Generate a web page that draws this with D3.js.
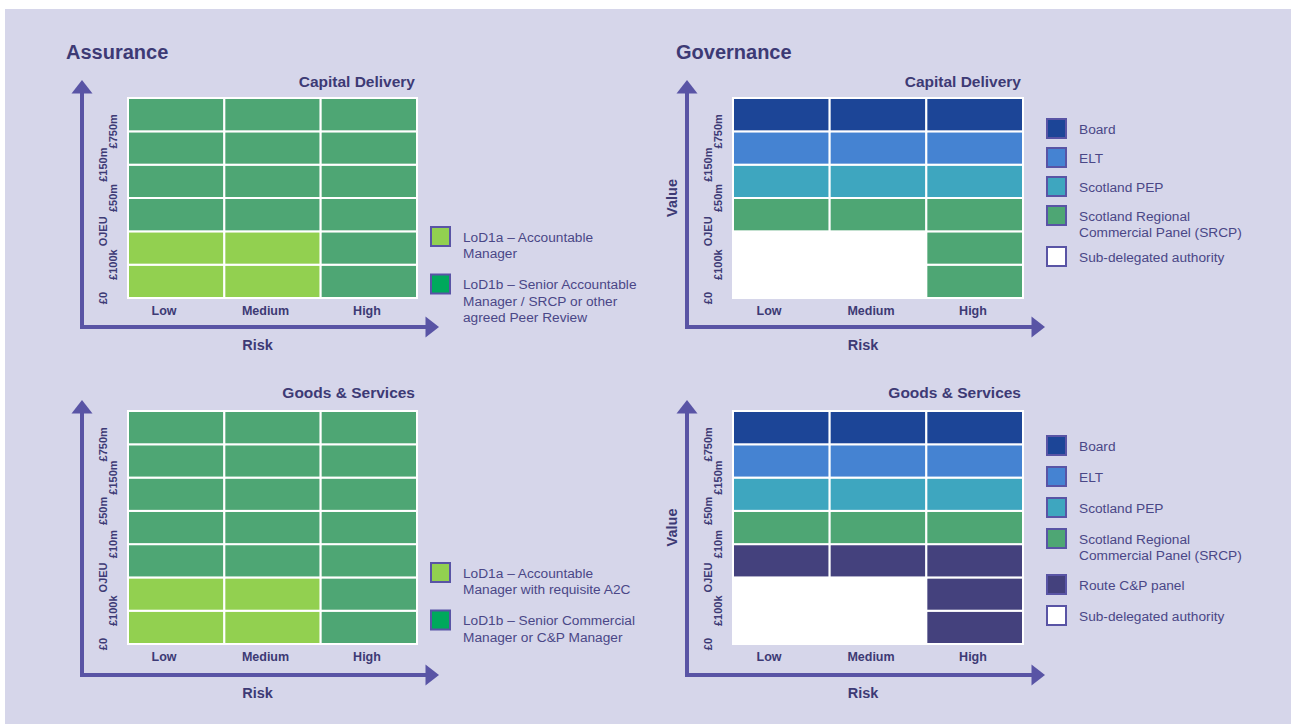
<!DOCTYPE html>
<html>
<head>
<meta charset="utf-8">
<script src="https://cdn.jsdelivr.net/npm/d3@7"></script>
<style>
  html, body { margin: 0; padding: 0; background: #ffffff; }
  svg { display: block; font-family: "Liberation Sans", Arial, Helvetica, sans-serif; }
</style>
</head>
<body>
<svg id="chart" width="1298" height="724"></svg>
<script>
// ---- Data -------------------------------------------------------------
const riskLevels = ["Low", "Medium", "High"];

const capitalValueBands = ["£0", "£100k", "OJEU", "£50m", "£150m", "£750m"];
const goodsValueBands = ["£0", "£100k", "OJEU", "£10m", "£50m", "£150m", "£750m"];

// Each matrix is listed from the lowest value band upwards, one entry per risk level
const assuranceCapital = [
  ["LoD1a", "LoD1a", "LoD1b"],
  ["LoD1a", "LoD1a", "LoD1b"],
  ["LoD1b", "LoD1b", "LoD1b"],
  ["LoD1b", "LoD1b", "LoD1b"],
  ["LoD1b", "LoD1b", "LoD1b"],
  ["LoD1b", "LoD1b", "LoD1b"]
];

const assuranceGoods = [
  ["LoD1a", "LoD1a", "LoD1b"],
  ["LoD1a", "LoD1a", "LoD1b"],
  ["LoD1b", "LoD1b", "LoD1b"],
  ["LoD1b", "LoD1b", "LoD1b"],
  ["LoD1b", "LoD1b", "LoD1b"],
  ["LoD1b", "LoD1b", "LoD1b"],
  ["LoD1b", "LoD1b", "LoD1b"]
];

const governanceCapital = [
  ["Sub", "Sub", "SRCP"],
  ["Sub", "Sub", "SRCP"],
  ["SRCP", "SRCP", "SRCP"],
  ["PEP", "PEP", "PEP"],
  ["ELT", "ELT", "ELT"],
  ["Board", "Board", "Board"]
];

const governanceGoods = [
  ["Sub", "Sub", "Route"],
  ["Sub", "Sub", "Route"],
  ["Route", "Route", "Route"],
  ["SRCP", "SRCP", "SRCP"],
  ["PEP", "PEP", "PEP"],
  ["ELT", "ELT", "ELT"],
  ["Board", "Board", "Board"]
];

const assuranceCapitalLegend = [
  { key: "LoD1a", lines: ["LoD1a – Accountable", "Manager"] },
  { key: "LoD1b", lines: ["LoD1b – Senior Accountable", "Manager / SRCP or other", "agreed Peer Review"] }
];

const assuranceGoodsLegend = [
  { key: "LoD1a", lines: ["LoD1a – Accountable", "Manager with requisite A2C"] },
  { key: "LoD1b", lines: ["LoD1b – Senior Commercial", "Manager or C&P Manager"] }
];

const governanceCapitalLegend = [
  { key: "Board", lines: ["Board"] },
  { key: "ELT", lines: ["ELT"] },
  { key: "PEP", lines: ["Scotland PEP"] },
  { key: "SRCP", lines: ["Scotland Regional", "Commercial Panel (SRCP)"] },
  { key: "Sub", lines: ["Sub-delegated authority"] }
];

const governanceGoodsLegend = [
  { key: "Board", lines: ["Board"] },
  { key: "ELT", lines: ["ELT"] },
  { key: "PEP", lines: ["Scotland PEP"] },
  { key: "SRCP", lines: ["Scotland Regional", "Commercial Panel (SRCP)"] },
  { key: "Route", lines: ["Route C&P panel"] },
  { key: "Sub", lines: ["Sub-delegated authority"] }
];

// ---- Styling ----------------------------------------------------------
const cellColor = {
  LoD1a: "#92d050", LoD1b: "#4ea674",
  Board: "#1c4597", ELT: "#4583d2", PEP: "#3ea6bf",
  SRCP: "#4ea674", Route: "#44417d", Sub: "#ffffff"
};
const swatchColor = Object.assign({}, cellColor, { LoD1b: "#00a95c" });

const TITLE = "#3d3a75";
const LABEL = "#4a4787";
const ARROW = "#5954a5";

const svg = d3.select("#chart");

svg.append("rect")
  .attr("x", 5).attr("y", 9).attr("width", 1286).attr("height", 715)
  .attr("fill", "#d6d6ea");

// ---- Panel drawing ------------------------------------------------------
function drawPanel(p) {
  const g = svg.append("g");
  const nRows = p.cells.length;

  const x = d3.scaleBand().domain(riskLevels).range([p.x0, p.x1]);
  const y = d3.scaleLinear().domain([0, nRows]).range([p.y1, p.y0]);
  const labelX = d3.scalePoint().domain(riskLevels).range([p.x0 + 36, p.x1 - 50]);

  // axis arrows
  const ax = p.x0 - 46;
  const ay = p.axisY;
  g.append("path")
    .attr("d", `M${ax},${p.arrowTopY + 10} L${ax},${ay} L${p.arrowRightX - 10},${ay}`)
    .attr("fill", "none").attr("stroke", ARROW).attr("stroke-width", 4)
    .attr("stroke-linejoin", "miter");
  g.append("path")
    .attr("d", `M${ax},${p.arrowTopY} L${ax + 10.5},${p.arrowTopY + 13.5} L${ax - 10.5},${p.arrowTopY + 13.5} Z`)
    .attr("fill", ARROW);
  g.append("path")
    .attr("d", `M${p.arrowRightX},${ay} L${p.arrowRightX - 13.5},${ay - 10.5} L${p.arrowRightX - 13.5},${ay + 10.5} Z`)
    .attr("fill", ARROW);

  // cells
  p.cells.forEach((row, ri) => {
    g.selectAll(null)
      .data(row.map((k, ci) => ({ k, risk: riskLevels[ci] })))
      .join("rect")
      .attr("x", d => x(d.risk))
      .attr("y", y(ri + 1))
      .attr("width", x.bandwidth())
      .attr("height", y(ri) - y(ri + 1))
      .attr("fill", d => cellColor[d.k])
      .attr("stroke", "#ffffff")
      .attr("stroke-width", 2);
  });

  // value band labels (rotated)
  g.selectAll(null)
    .data(p.bands)
    .join("text")
    .attr("transform", (d, i) => `translate(${p.x0 - (i % 2 === 0 ? 25 : 15)},${y(i)}) rotate(-90)`)
    .attr("text-anchor", "middle")
    .attr("dy", "0.36em")
    .attr("font-size", 11)
    .attr("font-weight", "bold")
    .attr("fill", TITLE)
    .text(d => d);

  // risk labels
  g.selectAll(null)
    .data(riskLevels)
    .join("text")
    .attr("x", d => labelX(d))
    .attr("y", p.y1 + 17)
    .attr("text-anchor", "middle")
    .attr("font-size", 12.5)
    .attr("font-weight", "bold")
    .attr("fill", TITLE)
    .text(d => d);

  g.append("text")
    .attr("x", (p.x0 + p.x1) / 2 - 15)
    .attr("y", ay + 23)
    .attr("text-anchor", "middle")
    .attr("font-size", 14.5).attr("font-weight", "bold").attr("fill", TITLE)
    .text("Risk");

  if (p.valueLabel) {
    g.append("text")
      .attr("transform", `translate(${p.x0 - 61},${(p.y0 + p.y1) / 2}) rotate(-90)`)
      .attr("text-anchor", "middle").attr("dy", "0.36em")
      .attr("font-size", 14.5).attr("font-weight", "bold").attr("fill", TITLE)
      .text("Value");
  }

  g.append("text")
    .attr("x", p.x1 - 2)
    .attr("y", p.subtitleY)
    .attr("text-anchor", "end")
    .attr("font-size", 15.5).attr("font-weight", "bold").attr("fill", TITLE)
    .text(p.subtitle);

  if (p.title) {
    g.append("text")
      .attr("x", p.titleX).attr("y", 59)
      .attr("font-size", 20).attr("font-weight", "bold").attr("fill", TITLE)
      .text(p.title);
  }

  // legend
  const lg = g.append("g");
  let top = p.legendTop;
  p.legend.forEach(item => {
    const s = p.swatch;
    lg.append("rect")
      .attr("x", p.legendX + 1).attr("y", top + 1)
      .attr("width", s - 2).attr("height", s - 2)
      .attr("fill", swatchColor[item.key])
      .attr("stroke", ARROW).attr("stroke-width", 2);
    const t = lg.append("text")
      .attr("font-size", 13.7).attr("fill", LABEL);
    item.lines.forEach((line, li) => {
      t.append("tspan")
        .attr("x", p.legendTextX)
        .attr("y", top + s / 2 + 5 + li * 16.5)
        .text(line);
    });
    top += p.legendStep + (item.lines.length - 1) * p.legendExtra;
  });
}

drawPanel({
  x0: 128, x1: 417, y0: 98, y1: 298, axisY: 327, arrowTopY: 80, arrowRightX: 439,
  cells: assuranceCapital, bands: capitalValueBands,
  title: "Assurance", titleX: 66, subtitle: "Capital Delivery", subtitleY: 87,
  legend: assuranceCapitalLegend, legendX: 430, legendTextX: 463, legendTop: 226,
  swatch: 21, legendStep: 31, legendExtra: 16.5
});

drawPanel({
  x0: 128, x1: 417, y0: 411, y1: 644, axisY: 675, arrowTopY: 400, arrowRightX: 439,
  cells: assuranceGoods, bands: goodsValueBands,
  subtitle: "Goods & Services", subtitleY: 398,
  legend: assuranceGoodsLegend, legendX: 430, legendTextX: 463, legendTop: 562,
  swatch: 21, legendStep: 31, legendExtra: 16.5
});

drawPanel({
  x0: 733, x1: 1023, y0: 98, y1: 298, axisY: 327, arrowTopY: 80, arrowRightX: 1045,
  cells: governanceCapital, bands: capitalValueBands, valueLabel: true,
  title: "Governance", titleX: 676, subtitle: "Capital Delivery", subtitleY: 87,
  legend: governanceCapitalLegend, legendX: 1046, legendTextX: 1079, legendTop: 118,
  swatch: 21, legendStep: 29, legendExtra: 12
});

drawPanel({
  x0: 733, x1: 1023, y0: 411, y1: 644, axisY: 675, arrowTopY: 400, arrowRightX: 1045,
  cells: governanceGoods, bands: goodsValueBands, valueLabel: true,
  subtitle: "Goods & Services", subtitleY: 398,
  legend: governanceGoodsLegend, legendX: 1046, legendTextX: 1079, legendTop: 435,
  swatch: 21, legendStep: 31, legendExtra: 15
});
</script>
</body>
</html>
